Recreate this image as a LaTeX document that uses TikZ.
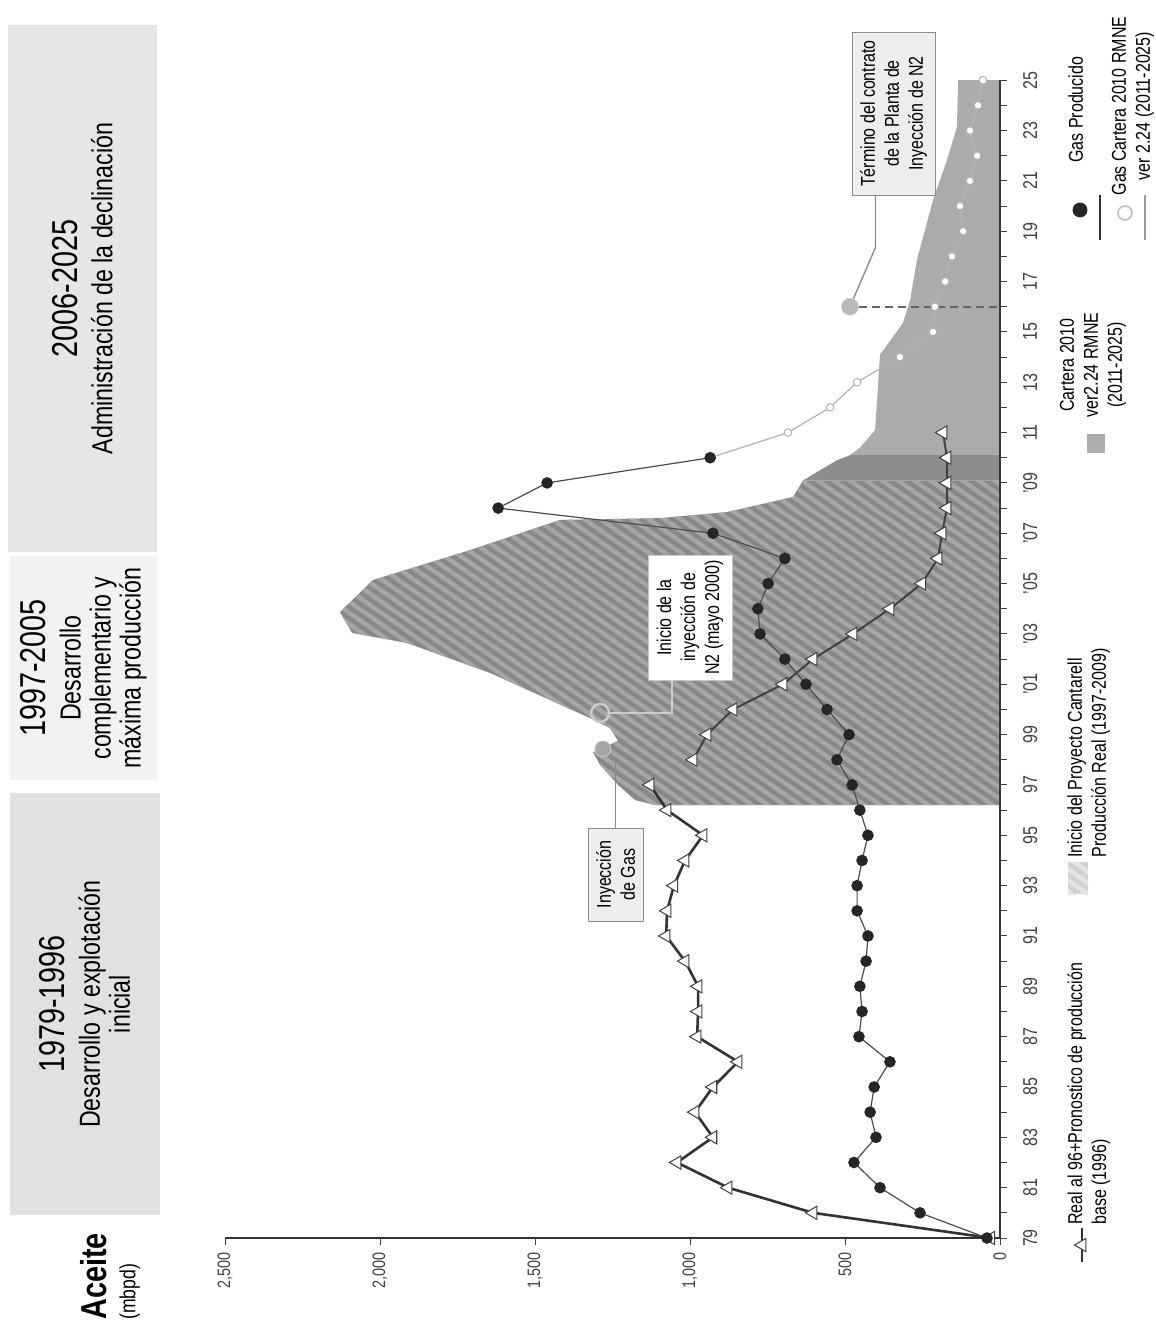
\documentclass[tikz,border=0pt]{standalone}
\usepackage{fontspec}
\setmainfont{Liberation Sans}[FakeStretch=0.8]
\usetikzlibrary{patterns.meta,plotmarks}
\definecolor{phaseA}{HTML}{E6E6E6}
\definecolor{phaseB}{HTML}{F2F2F2}
\definecolor{phaseC}{HTML}{E1E1E1}
\definecolor{realfill}{HTML}{888888}
\definecolor{realstripe}{HTML}{A6A6A6}
\definecolor{bandfill}{HTML}{8D8D8D}
\definecolor{carterafill}{HTML}{ABABAB}
\definecolor{boxfill}{HTML}{EDEDED}
\newcommand{\yearfont}{\fontsize{18}{20}\selectfont}
\newcommand{\phasefont}{\fontsize{14.5}{15}\selectfont}
\newcommand{\notefont}{\fontsize{10}{12}\selectfont}
\begin{document}
\begin{tikzpicture}[x=0.5pt,y=-0.5pt,
  phasebox/.style={rotate=90, align=center, inner sep=0pt, font=\phasefont},
  notebox/.style={rotate=90, align=center, draw=black!45, fill=boxfill, inner sep=2pt, font=\notefont},
  legend text/.style={rotate=90, inner sep=0pt, font=\notefont},
  leader/.style={draw=black!45, line width=0.7pt},
  tick/.style={black!75, line width=0.5pt},
  yearlabel/.style={rotate=90, anchor=north, outer sep=8pt, inner sep=0pt, font=\notefont},
  valuelabel/.style={rotate=90, anchor=east, outer sep=3.5pt, inner sep=0pt, font=\fontsize{9}{10}\selectfont},
  trimark/.style={mark=triangle*, mark size=3.8pt, mark options={solid, fill=white, draw=black!75, rotate=90, line width=0.5pt}},
  dotmark/.style={mark=*, mark size=2.6pt, mark options={fill=black!85, draw=black!85}},
  ringmark/.style={mark=*, mark size=1.9pt, mark options={fill=white, draw=black!30, line width=0.5pt}},
  realarea/.style={fill=realfill, postaction={pattern={Lines[angle=-35,distance=4.6pt,line width=2.2pt]}, pattern color=realstripe}}]
\useasboundingbox (0,0) rectangle (1156,1323);

% phase headers
\node[phasebox, fill=phaseA, minimum width=263.5pt, minimum height=74.5pt] (phase3) at (82.5,288.5) {\yearfont 2006-2025\\[2.5pt]Administración de la declinación};
\node[phasebox, fill=phaseB, minimum width=112pt, minimum height=73.5pt] (phase2) at (83.5,668) {\yearfont 1997-2005\\[2.5pt]Desarrollo\\complementario y\\máxima producción};
\node[phasebox, fill=phaseC, minimum width=211pt, minimum height=75pt] (phase1) at (85,1004) {\yearfont 1979-1996\\[2.5pt]Desarrollo y explotación\\inicial};
\node[rotate=90, anchor=north west, inner sep=0pt, font=\bfseries\fontsize{18}{20}\selectfont] (aceite) at (80,1320) {Aceite};
\node[rotate=90, anchor=north west, inner sep=0pt, font=\fontsize{11}{12}\selectfont] (mbpd) at (119,1320) {(mbpd)};

\begin{scope}[shift={(1000,1238)}, x={(0pt,12.585pt)}, y={(-0.155pt,0pt)}]
  % areas
  \fill[carterafill] (31.1,0) -- (31.1,484) -- (31.4,452) -- (32.1,403) -- (35.1,387) -- (36.35,313) -- (37.27,290) -- (38.86,268) -- (41.24,216) -- (42.83,171) -- (44.14,139) -- (46,135) -- (46,0) -- cycle;
  \fill[bandfill] (30.1,0) -- (30.1,635) -- (30.5,581) -- (30.9,526) -- (31.1,484) -- (31.1,0) -- cycle;
  \fill[realarea] (17.2,0) -- (17.2,1113) -- (17.4,1177) -- (18.0,1232) -- (18.8,1290) -- (19.3,1313) -- (19.75,1232) -- (20.26,1258) -- (20.66,1323) -- (22.45,1645) -- (23.64,1913) -- (24.04,2090) -- (24.87,2129) -- (26.14,2023) -- (27.33,1710) -- (28.53,1419) -- (28.6,1097) -- (28.84,881) -- (29.44,668) -- (30.1,635) -- (30.1,0) -- cycle;
  % end of the N2 contract
  \node[circle, fill=black!28, draw=black!18, minimum size=8.5pt, inner sep=0pt] (endmark) at (37,484) {};
  \coordinate (endaxis) at (37,0);
  \draw[black!60, line width=1.2pt, dash pattern=on 4pt off 2.5pt] (endmark) -- (endaxis);
  % axes
  \draw[black!80, line width=0.7pt] (0,0) -- (46,0);
  \draw[black!80, line width=0.7pt] (0,0) -- (0,2500);
  \draw[tick] (0,0) -- (-0.28,0) node[valuelabel] (v0) {0};
  \draw[tick] (0,500) -- (-0.28,500) node[valuelabel] (v500) {500};
  \draw[tick] (0,1000) -- (-0.28,1000) node[valuelabel] (v1000) {1,000};
  \draw[tick] (0,1500) -- (-0.28,1500) node[valuelabel] (v1500) {1,500};
  \draw[tick] (0,2000) -- (-0.28,2000) node[valuelabel] (v2000) {2,000};
  \draw[tick] (0,2500) -- (-0.28,2500) node[valuelabel] (v2500) {2,500};
  \draw[tick] (1,0) -- (1,-23) (3,0) -- (3,-23) (5,0) -- (5,-23) (7,0) -- (7,-23) (9,0) -- (9,-23) (11,0) -- (11,-23) (13,0) -- (13,-23) (15,0) -- (15,-23) (17,0) -- (17,-23) (19,0) -- (19,-23) (21,0) -- (21,-23) (23,0) -- (23,-23) (25,0) -- (25,-23) (27,0) -- (27,-23) (29,0) -- (29,-23) (31,0) -- (31,-23) (33,0) -- (33,-23) (35,0) -- (35,-23) (37,0) -- (37,-23) (39,0) -- (39,-23) (41,0) -- (41,-23) (43,0) -- (43,-23) (45,0) -- (45,-23);
  \draw[tick] (0,0) -- (0,-23) node[yearlabel] (y79) {79};
  \draw[tick] (2,0) -- (2,-23) node[yearlabel] (y81) {81};
  \draw[tick] (4,0) -- (4,-23) node[yearlabel] (y83) {83};
  \draw[tick] (6,0) -- (6,-23) node[yearlabel] (y85) {85};
  \draw[tick] (8,0) -- (8,-23) node[yearlabel] (y87) {87};
  \draw[tick] (10,0) -- (10,-23) node[yearlabel] (y89) {89};
  \draw[tick] (12,0) -- (12,-23) node[yearlabel] (y91) {91};
  \draw[tick] (14,0) -- (14,-23) node[yearlabel] (y93) {93};
  \draw[tick] (16,0) -- (16,-23) node[yearlabel] (y95) {95};
  \draw[tick] (18,0) -- (18,-23) node[yearlabel] (y97) {97};
  \draw[tick] (20,0) -- (20,-23) node[yearlabel] (y99) {99};
  \draw[tick] (22,0) -- (22,-23) node[yearlabel] (y01) {'01};
  \draw[tick] (24,0) -- (24,-23) node[yearlabel] (y03) {'03};
  \draw[tick] (26,0) -- (26,-23) node[yearlabel] (y05) {'05};
  \draw[tick] (28,0) -- (28,-23) node[yearlabel] (y07) {'07};
  \draw[tick] (30,0) -- (30,-23) node[yearlabel] (y09) {'09};
  \draw[tick] (32,0) -- (32,-23) node[yearlabel] (y11) {11};
  \draw[tick] (34,0) -- (34,-23) node[yearlabel] (y13) {13};
  \draw[tick] (36,0) -- (36,-23) node[yearlabel] (y15) {15};
  \draw[tick] (38,0) -- (38,-23) node[yearlabel] (y17) {17};
  \draw[tick] (40,0) -- (40,-23) node[yearlabel] (y19) {19};
  \draw[tick] (42,0) -- (42,-23) node[yearlabel] (y21) {21};
  \draw[tick] (44,0) -- (44,-23) node[yearlabel] (y23) {23};
  \draw[tick] (46,0) -- (46,-23) node[yearlabel] (y25) {25};
  % base forecast 1996 (triangles)
  \draw[black!80, line width=1.3pt] plot[trimark] coordinates {(0,30) (1,603) (2,877) (3,1042) (4,926) (5,984) (6,926) (7,845) (8,977) (9,974) (10,974) (11,1016) (12,1077) (13,1074) (14,1052) (15,1016) (16,958) (17,1074) (18,1129)};
  \draw[black!75, line width=1pt] plot[trimark] coordinates {(19,990) (20,945) (21,861) (22,700) (23,603) (24,474) (25,355) (26,252) (27,200) (28,187) (29,171) (30,171) (31,171) (32,184)};
  % gas, cartera 2010
  \draw[black!30, line width=0.6pt] (31,935) -- (32,684);
  \draw[black!30, line width=0.6pt] plot[ringmark] coordinates {(32,684) (33,548) (34,461) (35,323) (36,216) (37,210) (38,177) (39,155) (40,119) (41,129) (42,97) (43,74) (44,97) (45,71) (46,55)};
  % gas produced
  \draw[black!70, line width=0.6pt] plot[dotmark] coordinates {(0,42) (1,258) (2,387) (3,471) (4,400) (5,419) (6,406) (7,355) (8,455) (9,445) (10,452) (11,432) (12,426) (13,461) (14,461) (15,445) (16,426) (17,452) (18,477) (19,526) (20,487) (21,558) (22,626) (23,694) (24,774) (25,781) (26,748) (27,694) (28,926) (29,1619) (30,1461) (31,935)};
  % injection marks
  \node[circle, fill=black!35, draw=black!22, minimum size=8pt, inner sep=0pt] (gasmark) at (19.43,1281) {};
  \node[circle, draw=black!20, line width=1.2pt, minimum size=9pt, inner sep=0pt] (n2mark) at (20.86,1290) {};
\end{scope}

% callouts
\node[notebox, minimum width=81.5pt, minimum height=41.5pt] (endnote) at (893.5,113.5) {Término del contrato\\de la Planta de\\Inyección de N2};
\node[notebox, fill=white, draw=black!22, minimum width=62.5pt, minimum height=42pt] (n2note) at (690,617.5) {Inicio de la\\inyección de\\N2 (mayo 2000)};
\node[notebox, minimum width=46.5pt, minimum height=27.5pt] (gasnote) at (615.5,874.5) {Inyección\\de Gas};
\draw[leader] ([xshift=-9pt]endnote.west) -- ++(0,52) -- (endmark);
\draw[leader, draw=black!20] ([xshift=-9pt]n2note.west) |- (n2mark);
\draw[leader] (gasnote.east) -- (gasnote.east |- gasmark.south);

% legend
\draw[black!80, line width=1.1pt] (1082,1262) -- (1082,1228);
\draw plot[only marks, trimark] coordinates {(1082,1245)};
\node[legend text, anchor=north west, align=left] (lgreal) at (1067,1225) {Real al 96+Pronostico de producción\\base (1996)};
\fill[fill=black!18, postaction={pattern={Lines[angle=-35,distance=4.6pt,line width=2.2pt]}, pattern color=black!10}] (1068,862) rectangle (1088,894);
\node[legend text, anchor=north west, align=left] (lgcant) at (1067,858) {Inicio del Proyecto Cantarell\\Producción Real (1997-2009)};
\fill[black!32] (1087,434) rectangle (1105,453);
\node[legend text, align=center] (lgcart) at (1093,365) {Cartera 2010\\ver2.24 RMNE\\(2011-2025)};
\draw plot[only marks, mark=*, mark size=3.5pt, mark options={fill=black!85, draw=black!85}] coordinates {(1080,210)};
\draw[black!80, line width=0.8pt] (1100,195) -- (1100,240);
\node[legend text, anchor=north west, align=left] (lggas) at (1068,163) {Gas Producido};
\draw plot[only marks, mark=*, mark size=3.5pt, mark options={fill=white, draw=black!25, line width=0.8pt}] coordinates {(1125,213)};
\draw[black!40, line width=0.8pt] (1145,195) -- (1145,240);
\node[legend text, align=center] (lgcartgas) at (1133,106) {Gas Cartera 2010 RMNE\\ver 2.24 (2011-2025)};
\end{tikzpicture}
\end{document}
